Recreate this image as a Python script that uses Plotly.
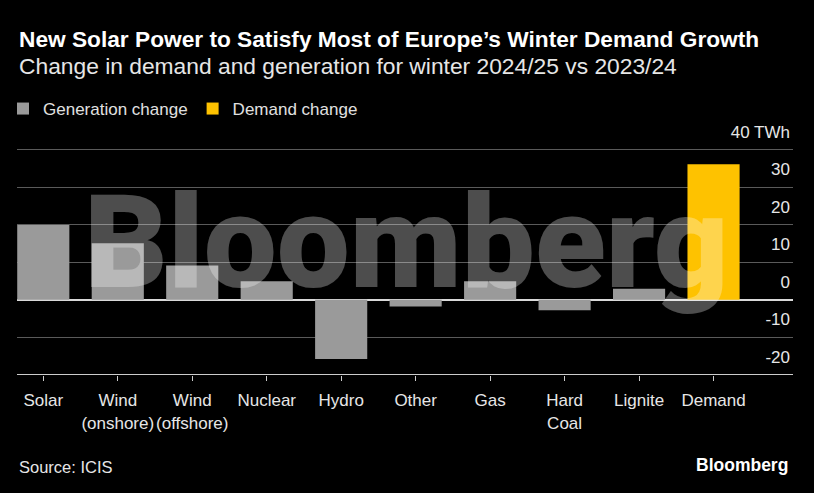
import plotly.graph_objects as go

categories = ["Solar", "Wind<br>(onshore)", "Wind<br>(offshore)", "Nuclear", "Hydro",
              "Other", "Gas", "Hard<br>Coal", "Lignite", "Demand"]
generation_change = [20, 15.1, 9.2, 5.0, -15.8, -1.8, 5.0, -2.8, 3.0, None]
demand_change = [None, None, None, None, None, None, None, None, None, 36.2]
y_tickvals = [40, 30, 20, 10, 0, -10, -20]
y_ticktext = ["40 TWh", "30", "20", "10", "0", "-10", "-20"]

FONT = "Liberation Sans"
GRAY = "#9a9a9a"
YELLOW = "#fec200"

TOP, BOTTOM = 120, 375
Y_RANGE = [-20.05, 48.0]


def py(pix):
    return (BOTTOM - pix) / (BOTTOM - TOP)


def px(pix):
    return (pix - 17) / 776


fig = go.Figure()
fig.add_trace(go.Bar(x=categories, y=generation_change, name="Generation change",
                     marker=dict(color=GRAY, line=dict(width=0))))
fig.add_trace(go.Bar(x=categories, y=demand_change, name="Demand change",
                     marker=dict(color=YELLOW, line=dict(width=0))))

fig.update_layout(
    width=814, height=493,
    paper_bgcolor="black", plot_bgcolor="black",
    margin=dict(l=17, r=21, t=TOP, b=493 - BOTTOM, autoexpand=False),
    barmode="overlay", bargap=0.3,
    font=dict(family=FONT, color="#e6e6e6", size=17),
    showlegend=True,
    hovermode=False,
    legend=dict(orientation="h", x=px(3), xanchor="left", y=py(91), yanchor="top",
                font=dict(size=17, color="#e0e0e0"),
                bgcolor="rgba(0,0,0,0)", tracegroupgap=0),
)

fig.update_xaxes(
    type="category", range=[-0.353, 10.067],
    showgrid=False, showline=False, zeroline=False,
    ticks="outside", ticklen=5, tickcolor="#cccccc", tickwidth=1,
    tickangle=0, automargin=False, ticklabelstandoff=5,
    tickfont=dict(size=17, color="#e6e6e6"),
)
fig.update_yaxes(
    range=Y_RANGE, side="right", ticklabelposition="inside",
    tickvals=y_tickvals, ticktext=y_ticktext,
    tickfont=dict(size=17, color="#e6e6e6"),
    ticklabelshift=-18, automargin=False,
    showgrid=True, gridcolor="#5a5a5a", gridwidth=1,
    zeroline=True, zerolinecolor="#d9d9d9", zerolinewidth=1.5,
    showline=False, ticks="",
)

# bottom axis line at -20
fig.add_shape(type="line", xref="paper", yref="y", x0=0, x1=1, y0=-20, y1=-20,
              line=dict(color="#cccccc", width=1.5), layer="above")

# watermark
fig.add_annotation(text="Bloomberg", xref="paper", yref="paper",
                   x=px(406), y=py(242), xanchor="center", yanchor="middle",
                   showarrow=False,
                   font=dict(family="Roboto", size=130, weight=900,
                             color="rgba(255,255,255,0.30)"))

fig.add_annotation(text="<b>New Solar Power to Satisfy Most of Europe’s Winter Demand Growth</b>",
                   xref="paper", yref="paper", x=0, y=py(39),
                   xanchor="left", yanchor="middle", showarrow=False,
                   font=dict(family=FONT, size=22.7, color="#ffffff"))
fig.add_annotation(text="Change in demand and generation for winter 2024/25 vs 2023/24",
                   xref="paper", yref="paper", x=0, y=py(66),
                   xanchor="left", yanchor="middle", showarrow=False,
                   font=dict(family=FONT, size=22.8, color="#e6e6e6"))
fig.add_annotation(text="Source: ICIS",
                   xref="paper", yref="paper", x=0, y=py(467),
                   xanchor="left", yanchor="middle", showarrow=False,
                   font=dict(family=FONT, size=16.5, color="#e6e6e6"))
fig.add_annotation(text="<b>Bloomberg</b>",
                   xref="paper", yref="paper", x=px(790), y=py(465),
                   xanchor="right", yanchor="middle", showarrow=False,
                   font=dict(family=FONT, size=17.5, color="#ffffff"))

fig.write_html("out.html", config={"displayModeBar": False},
               post_script="document.body.style.margin='0px';")
